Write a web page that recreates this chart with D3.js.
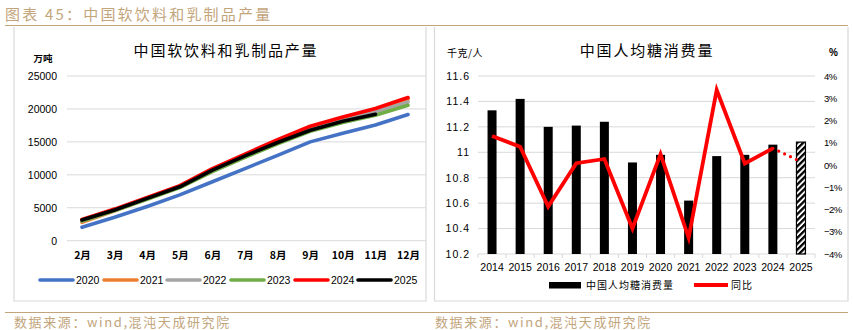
<!DOCTYPE html>
<html><head><meta charset="utf-8">
<script src="https://cdn.jsdelivr.net/npm/d3@7"></script>
<style>
body{margin:0;background:#fff;}
svg{display:block;}
text{font-family:"Liberation Sans",Arial,sans-serif;}
.cjk{font-family:"Noto Sans CJK SC","Noto Sans",sans-serif;}
</style></head>
<body>
<svg id="c" width="853" height="330"></svg>
<script>
// ---------- data ----------
const months = ["2月","3月","4月","5月","6月","7月","8月","9月","10月","11月","12月"];
const yearNames = ["2020","2021","2022","2023","2024","2025"];
const yearColors = ["#4472C4","#ED7D31","#A5A5A5","#70AD47","#FF0000","#000000"];
const prod2020 = [2030,3550,5200,6950,8950,10950,12950,15000,16300,17550,19150];
const prod2021 = [2780,4550,6400,8250,10750,12950,15050,17000,18400,19700,21450];
const prod2022 = [3000,4650,6400,8200,10650,12800,14850,16850,18250,19550,21060];
const prod2023 = [2980,4560,6280,8070,10500,12650,14700,16600,17950,19050,20560];
const prod2024 = [3220,4800,6550,8350,10950,13150,15350,17380,18790,20060,21730];
const prod2025 = [3140,4650,6420,8180,10700,12880,14900,16770,18140,19200];
const leftTicks = [0,5000,10000,15000,20000,25000];

const sugarYears = ["2014","2015","2016","2017","2018","2019","2020","2021","2022","2023","2024","2025"];
const sugarPerCapita = [11.33,11.42,11.20,11.21,11.24,10.92,10.98,10.62,10.97,10.98,11.06,11.08];
const sugarYoY = [1.30,0.82,-1.87,0.08,0.27,-2.85,0.49,-3.27,3.37,0.07,0.75,0.15];
const sugarTicks = [10.2,10.4,10.6,10.8,11,11.2,11.4,11.6];
const yoyTicks = [-4,-3,-2,-1,0,1,2,3,4];

const svg = d3.select("#c");
const tan = "#C3A57C";

// defs: hatch pattern
const defs = svg.append("defs");
const pat = defs.append("pattern").attr("id","hatch").attr("patternUnits","userSpaceOnUse")
  .attr("width",4.2).attr("height",4.2).attr("patternTransform","rotate(45)");
pat.append("rect").attr("width",4.2).attr("height",4.2).attr("fill","#fff");
pat.append("rect").attr("width",2.3).attr("height",4.2).attr("fill","#000");

// ---------- frame ----------
svg.append("text").attr("class","cjk").attr("x",5).attr("y",20).attr("font-size",15)
  .attr("letter-spacing",2.2).attr("fill",tan).text("图表 45：中国软饮料和乳制品产量");
svg.append("line").attr("x1",5).attr("x2",848).attr("y1",25.5).attr("y2",25.5).attr("stroke",tan).attr("stroke-width",1);
svg.append("line").attr("x1",5).attr("x2",848).attr("y1",312.5).attr("y2",312.5).attr("stroke",tan).attr("stroke-width",1);
[14,435].forEach(x=>{
  svg.append("text").attr("class","cjk").attr("x",x).attr("y",327).attr("font-size",13)
    .attr("letter-spacing",1.6).attr("fill",tan).text("数据来源：wind,混沌天成研究院");
});
// panels
[[14,426],[434.5,848]].forEach(([a,b])=>{
  svg.append("path").attr("d",`M${a},27 V${301} H${b} V27`).attr("fill","none")
    .attr("stroke","#D9D9D9").attr("stroke-width",1.2);
});

// ---------- left chart ----------
const xL = d3.scalePoint().domain(months).range([82,408]);
const yL = d3.scaleLinear().domain([0,25000]).range([240.7,76]);
const gL = svg.append("g");
gL.selectAll("line.grid").data(leftTicks).join("line").attr("class","grid")
  .attr("x1",67).attr("x2",426).attr("y1",d=>yL(d)).attr("y2",d=>yL(d))
  .attr("stroke","#D9D9D9").attr("stroke-width",1);
const axL = d3.axisLeft(yL).tickValues(leftTicks).tickSize(0).tickPadding(0).tickFormat(d3.format("d"));
gL.append("g").attr("transform","translate(57,0)").call(axL)
  .call(g=>g.select(".domain").remove())
  .call(g=>g.selectAll("text").attr("font-size",10.5).attr("fill","#000").attr("font-family","Liberation Sans, Arial"));
const axLx = d3.axisBottom(xL).tickSize(0).tickPadding(0);
gL.append("g").attr("transform","translate(0,259)").call(axLx)
  .call(g=>g.select(".domain").remove())
  .call(g=>g.selectAll("text").attr("class","cjk").attr("font-size",10.5).attr("fill","#000").attr("font-weight","bold").attr("dy",0));
svg.append("text").attr("class","cjk").attr("x",43).attr("y",62).attr("text-anchor","middle")
  .attr("font-size",9.5).attr("font-weight","bold").text("万吨");
svg.append("text").attr("class","cjk").attr("x",226).attr("y",56).attr("text-anchor","middle")
  .attr("font-size",15).attr("letter-spacing",1.8).text("中国软饮料和乳制品产量");

const series = [prod2020,prod2021,prod2022,prod2023,prod2024,prod2025];
const lineL = d3.line().x((d,i)=>xL(months[i])).y(d=>yL(d));
series.forEach((s,i)=>{
  gL.append("path").datum(s).attr("d",lineL).attr("fill","none")
    .attr("stroke",yearColors[i]).attr("stroke-width",3.6)
    .attr("stroke-linejoin","round").attr("stroke-linecap","round");
});
// legend left
const legL = [40,104,167,231,295,358];
yearNames.forEach((n,i)=>{
  gL.append("line").attr("x1",legL[i]).attr("x2",legL[i]+33).attr("y1",280).attr("y2",280)
    .attr("stroke",yearColors[i]).attr("stroke-width",3.6).attr("stroke-linecap","round");
  gL.append("text").attr("x",legL[i]+36).attr("y",284).attr("font-size",10.5).text(n);
});

// ---------- right chart ----------
const xR = d3.scaleBand().domain(sugarYears).range([478,815]);
const yR = d3.scaleLinear().domain([10.2,11.6]).range([254,76]);
const yR2 = d3.scaleLinear().domain([-4,4]).range([254,76]);
const gR = svg.append("g");
gR.selectAll("line.grid").data(sugarTicks).join("line")
  .attr("x1",478).attr("x2",815).attr("y1",d=>yR(d)).attr("y2",d=>yR(d))
  .attr("stroke","#D9D9D9").attr("stroke-width",1);
// x ticks
gR.selectAll("line.xt").data(sugarYears.concat(["end"])).join("line")
  .attr("x1",(d,i)=>478+i*xR.step()).attr("x2",(d,i)=>478+i*xR.step())
  .attr("y1",254).attr("y2",258).attr("stroke","#D9D9D9");
const axR = d3.axisLeft(yR).tickValues(sugarTicks).tickSize(0).tickPadding(0)
  .tickFormat(d=>d===11?"11":d3.format(".1f")(d));
gR.append("g").attr("transform","translate(470,0)").call(axR)
  .call(g=>g.select(".domain").remove())
  .call(g=>g.selectAll("text").attr("font-size",10.5).attr("letter-spacing",1).attr("fill","#000").attr("font-family","Liberation Sans, Arial"));
const axR2 = d3.axisRight(yR2).tickValues(yoyTicks).tickSize(0).tickPadding(0)
  .tickFormat(d=>(d<0?"−"+(-d):d)+"%");
gR.append("g").attr("transform","translate(824,0)").call(axR2)
  .call(g=>g.select(".domain").remove())
  .call(g=>g.selectAll("text").attr("font-size",9.5).attr("letter-spacing",-0.6).attr("fill","#000").attr("font-family","Liberation Sans, Arial"));
const axRx = d3.axisBottom(xR).tickSize(0).tickPadding(0);
gR.append("g").attr("transform","translate(0,271)").call(axRx)
  .call(g=>g.select(".domain").remove())
  .call(g=>g.selectAll("text").attr("font-size",10.5).attr("fill","#000").attr("font-family","Liberation Sans, Arial").attr("dy",0));
svg.append("text").attr("class","cjk").attr("x",447).attr("y",57)
  .attr("font-size",10).attr("letter-spacing",0.5).text("千克/人");
svg.append("text").attr("x",829).attr("y",56).attr("font-size",10).attr("font-weight","bold").text("%");
svg.append("text").attr("class","cjk").attr("x",647).attr("y",56).attr("text-anchor","middle")
  .attr("font-size",15).attr("letter-spacing",1.8).text("中国人均糖消费量");

const bw = 9;
gR.selectAll("rect.bar").data(sugarPerCapita).join("rect")
  .attr("x",(d,i)=>xR(sugarYears[i])+xR.bandwidth()/2-bw/2)
  .attr("y",d=>yR(d)).attr("width",bw).attr("height",d=>yR(10.2)-yR(d))
  .attr("fill",(d,i)=>i===sugarYears.length-1?"url(#hatch)":"#000")
  .attr("stroke",(d,i)=>i===sugarYears.length-1?"#000":"none").attr("stroke-width",1.2);

const cx = (i)=>xR(sugarYears[i])+xR.bandwidth()/2;
const solid = sugarYoY.slice(0,11);
gR.append("path").datum(solid)
  .attr("d",d3.line().x((d,i)=>cx(i)).y(d=>yR2(d)))
  .attr("fill","none").attr("stroke","#FF0000").attr("stroke-width",3.8).attr("stroke-linejoin","miter");
gR.append("path").datum(sugarYoY.slice(10))
  .attr("d",d3.line().x((d,i)=>cx(i+10)).y(d=>yR2(d)))
  .attr("fill","none").attr("stroke","#FF0000").attr("stroke-width",3.2)
  .attr("stroke-linecap","round").attr("stroke-dasharray","0,6.5");

// legend right
gR.append("rect").attr("x",549).attr("y",282).attr("width",32).attr("height",6.5).attr("fill","#000");
gR.append("text").attr("class","cjk").attr("x",586).attr("y",289).attr("font-size",10).attr("letter-spacing",1).text("中国人均糖消费量");
gR.append("line").attr("x1",694).attr("x2",728).attr("y1",285).attr("y2",285).attr("stroke","#FF0000").attr("stroke-width",3.8);
gR.append("text").attr("class","cjk").attr("x",731).attr("y",289).attr("font-size",10).attr("letter-spacing",1).text("同比");
</script>
</body></html>
